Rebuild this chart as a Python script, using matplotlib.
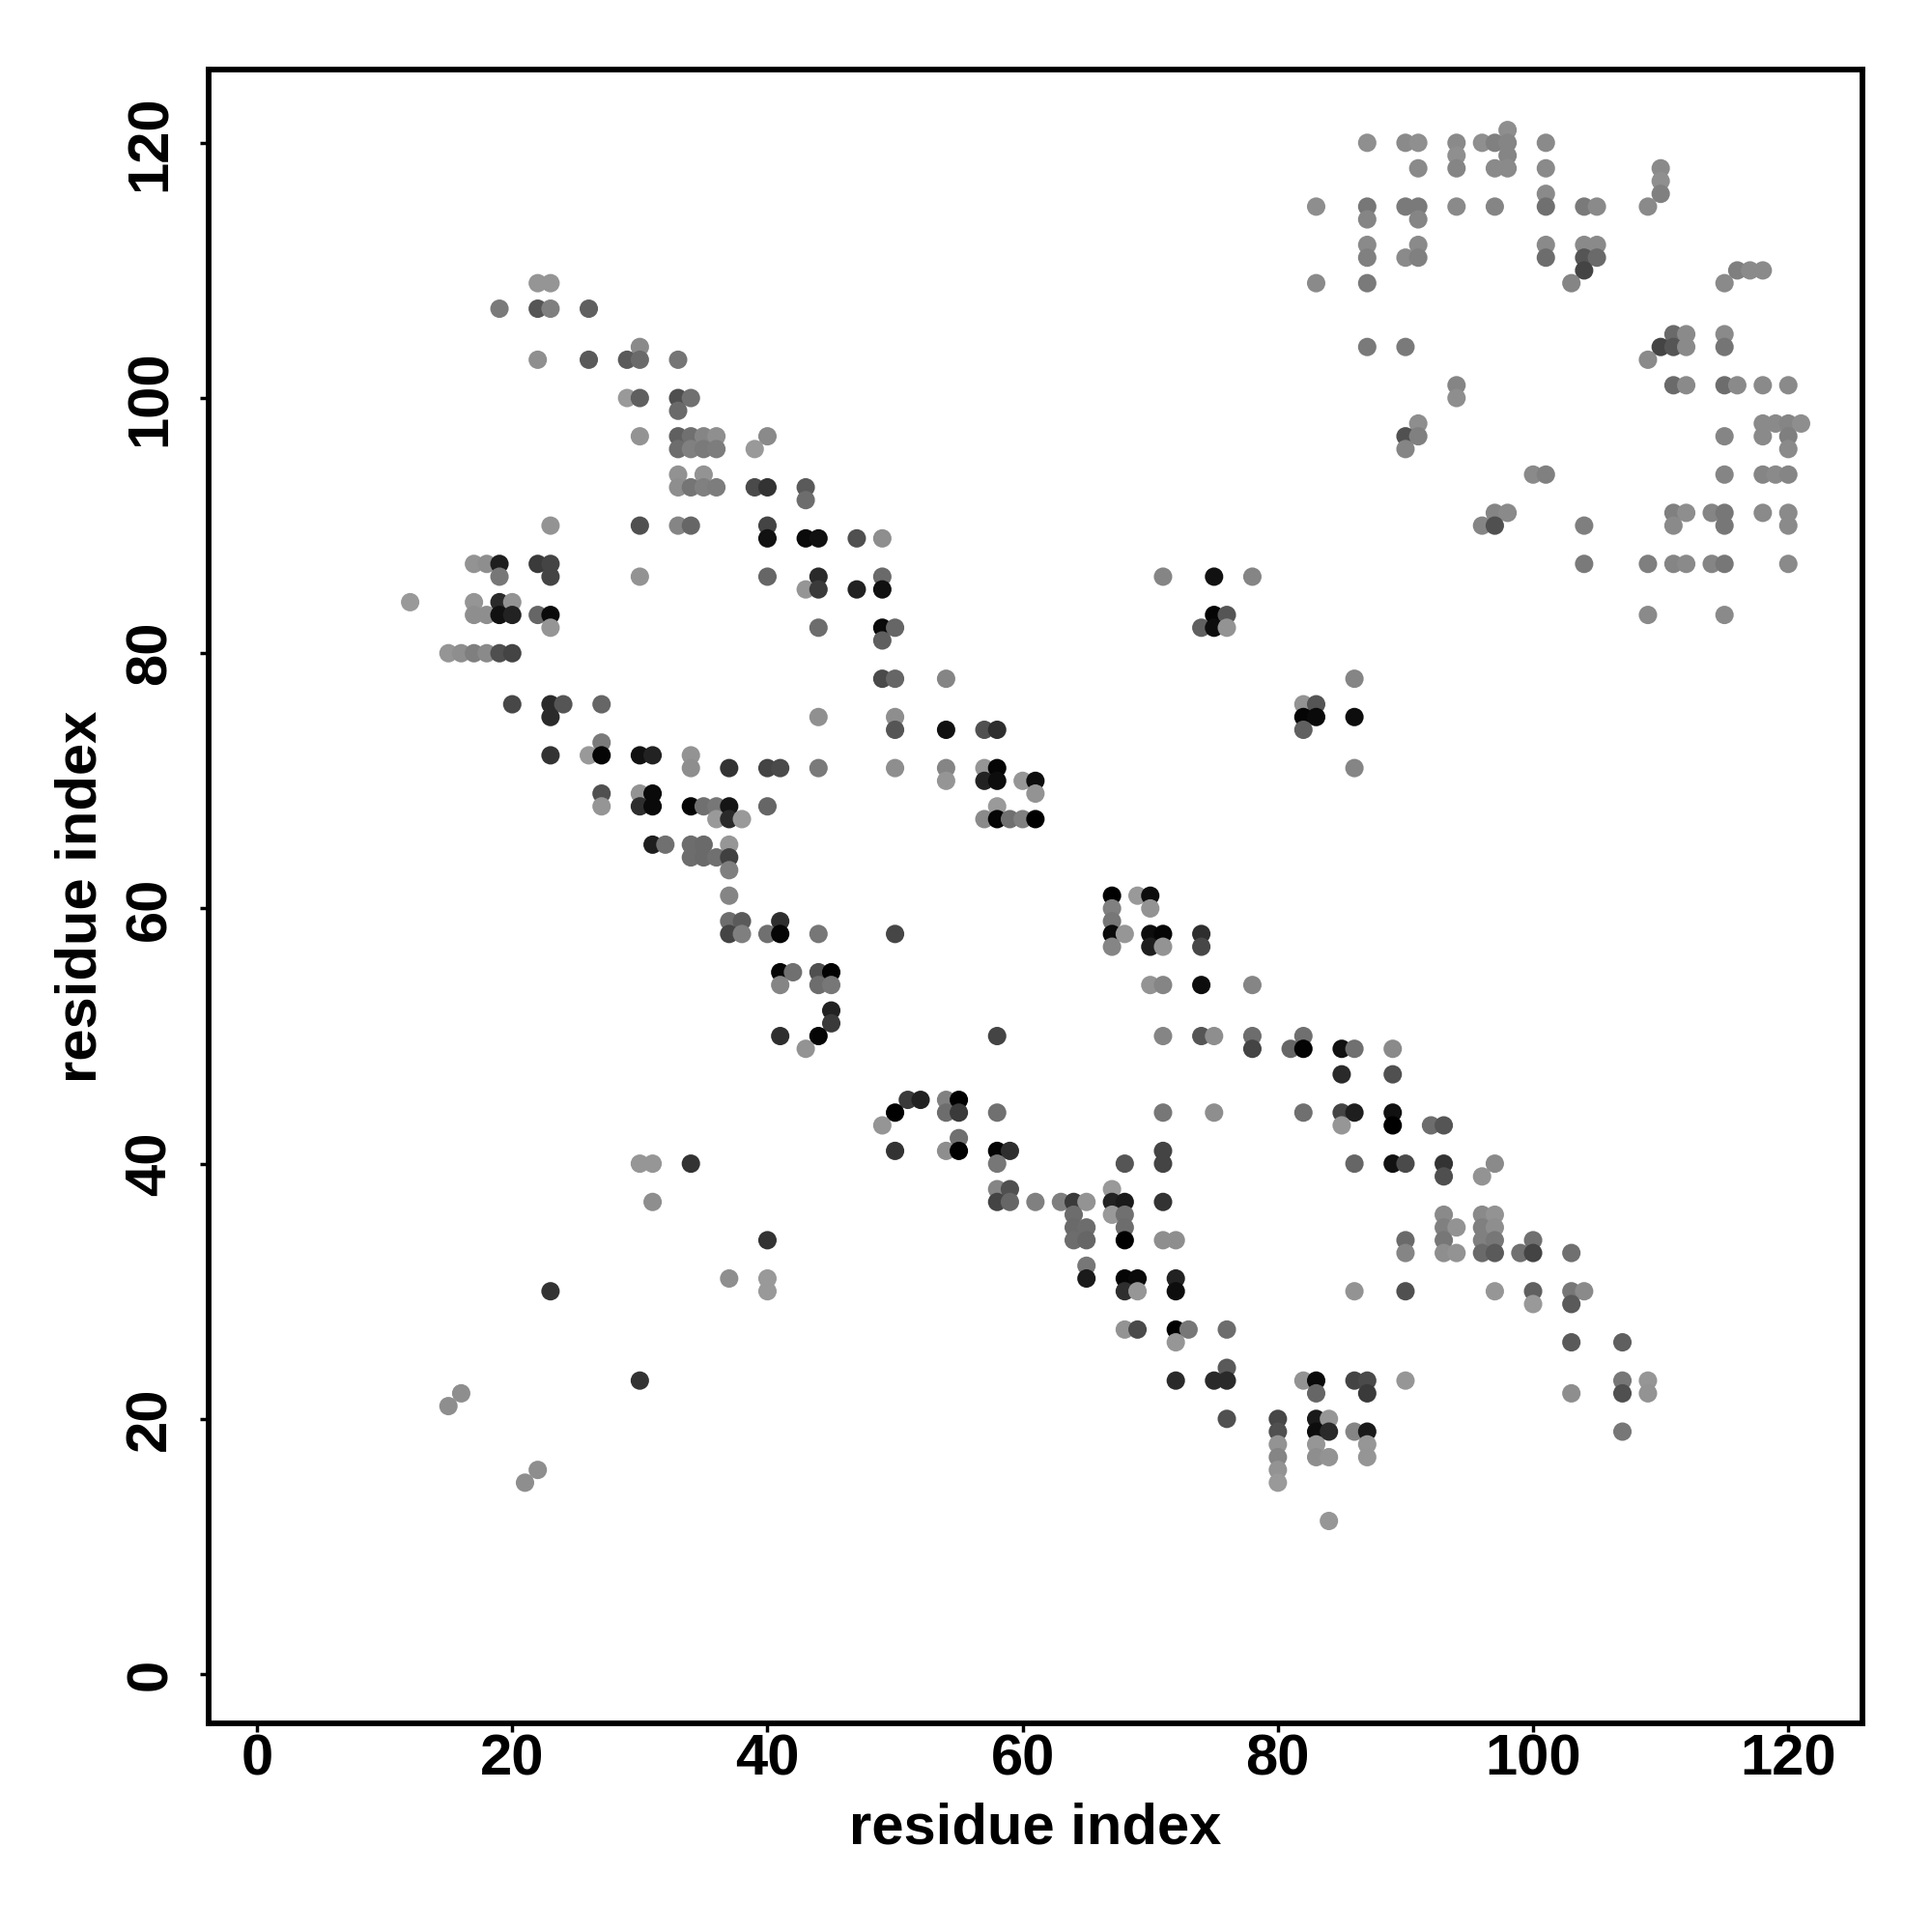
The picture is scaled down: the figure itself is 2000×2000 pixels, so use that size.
#!/usr/bin/env python3
import numpy as np
import matplotlib
matplotlib.use('Agg')
import matplotlib.pyplot as plt

# residue j of each row of contacts, top of the map first
row_y = [121, 120, 119, 118, 117, 116, 115, 114, 112, 111, 110, 109, 107, 105, 104, 103, 101, 100, 99, 98,
         97, 96, 94, 93, 92, 91, 90, 89, 87, 86, 85, 84, 83, 82, 81, 80, 78, 76, 75, 74, 73, 72, 71,
         70, 69, 68, 67, 65, 64, 63, 61, 60, 59, 58, 57, 55, 54, 52, 51, 50, 49, 47, 45, 44, 43, 42,
         41, 40, 39, 38, 37, 36, 35, 34, 33, 32, 31, 30, 29, 27, 26, 24, 23, 22, 21, 20, 19, 18, 17,
         16, 15, 12]

row_x = [
    [98],
    [87, 90, 91, 94, 96, 97, 98, 101],
    [94, 98],
    [91, 94, 97, 98, 101, 110],
    [110],
    [101, 110],
    [83, 87, 90, 91, 94, 97, 101, 104, 105, 109],
    [87, 91],
    [87, 91, 101, 104, 105],
    [87, 90, 91, 101, 104, 105],
    [104, 116, 117, 118],
    [22, 23, 83, 87, 103, 115],
    [19, 22, 23, 26],
    [111, 112, 115],
    [30, 87, 90, 110, 111, 112, 115],
    [22, 26, 29, 30, 33, 109],
    [94, 111, 112, 115, 116, 118, 120],
    [29, 30, 33, 34, 94],
    [33],
    [91, 118, 119, 120, 121],
    [30, 33, 34, 35, 36, 40, 90, 91, 115, 118, 120],
    [33, 34, 35, 36, 39, 90, 120],
    [33, 35, 100, 101, 115, 118, 119, 120],
    [33, 34, 35, 36, 39, 40, 43],
    [43],
    [97, 98, 111, 112, 114, 115, 118, 120],
    [23, 30, 33, 34, 40, 96, 97, 104, 111, 115, 120],
    [40, 43, 44, 47, 49],
    [17, 18, 19, 22, 23, 104, 109, 111, 112, 114, 115, 120],
    [19, 23, 30, 40, 44, 49, 71, 75, 78],
    [43, 44, 47, 49],
    [12, 17, 19, 20],
    [17, 18, 19, 20, 22, 23, 75, 76, 109, 115],
    [23, 44, 49, 50, 74, 75, 76],
    [49],
    [15, 16, 17, 18, 19, 20],
    [49, 50, 54, 86],
    [20, 23, 24, 27, 82, 83],
    [23, 44, 50, 82, 83, 86],
    [50, 54, 57, 58, 82],
    [27],
    [23, 26, 27, 30, 31, 34],
    [34, 37, 40, 41, 44, 50, 54, 57, 58, 86],
    [54, 57, 58, 60, 61],
    [27, 30, 31, 61],
    [27, 30, 31, 34, 35, 36, 37, 40, 58],
    [36, 37, 38, 57, 58, 59, 60, 61],
    [31, 32, 34, 35, 37],
    [34, 35, 36, 37],
    [37],
    [37, 67, 69, 70],
    [67, 70],
    [37, 38, 41, 67],
    [37, 38, 40, 41, 44, 50, 67, 68, 70, 71, 74],
    [67, 70, 71, 74],
    [41, 42, 44, 45],
    [41, 44, 45, 70, 71, 74, 78],
    [45],
    [45],
    [41, 44, 58, 71, 74, 75, 78, 82],
    [43, 78, 81, 82, 85, 86, 89],
    [85, 89],
    [51, 52, 54, 55],
    [50, 54, 55, 58, 71, 75, 82, 85, 86, 89],
    [49, 85, 89, 92, 93],
    [55],
    [50, 54, 55, 58, 59, 71],
    [30, 31, 34, 58, 68, 71, 86, 89, 90, 93, 97],
    [93, 96],
    [58, 59, 67],
    [31, 58, 59, 61, 63, 64, 65, 67, 68, 71],
    [64, 67, 68, 93, 96, 97],
    [64, 65, 68, 93, 94, 96, 97],
    [40, 64, 65, 68, 71, 72, 90, 93, 96, 97, 100],
    [90, 93, 94, 96, 97, 99, 100, 103],
    [65],
    [37, 40, 65, 68, 69, 72],
    [23, 40, 68, 69, 72, 86, 90, 97, 100, 103, 104],
    [100, 103],
    [68, 69, 72, 73, 76],
    [72, 103, 107],
    [76],
    [30, 72, 75, 76, 82, 83, 86, 87, 90, 107, 109],
    [16, 83, 87, 103, 107, 109],
    [15],
    [76, 80, 83, 84],
    [80, 83, 84, 86, 87, 107],
    [80, 83, 87],
    [80, 83, 84, 87],
    [22, 80],
    [21, 80],
    [84],
]

row_gray = [
    [142],
    [143, 138, 143, 138, 143, 128, 133, 138],
    [143, 133],
    [138, 133, 138, 138, 138, 138],
    [143],
    [138, 128],
    [142, 119, 122, 122, 138, 133, 112, 122, 138, 138],
    [133, 133],
    [138, 138, 138, 138, 138],
    [128, 138, 128, 109, 85, 106],
    [68, 127, 138, 138],
    [149, 149, 138, 122, 133, 138],
    [122, 85, 127, 96],
    [106, 138, 138],
    [138, 122, 122, 68, 85, 138, 117],
    [143, 90, 90, 106, 117, 138],
    [133, 106, 138, 109, 138, 138, 138],
    [153, 95, 79, 112, 142],
    [106],
    [142, 138, 138, 133, 142],
    [147, 96, 112, 133, 143, 138, 80, 128, 133, 138, 127],
    [109, 128, 122, 125, 153, 133, 138],
    [146, 147, 138, 128, 133, 133, 138, 133],
    [142, 117, 128, 125, 74, 51, 90],
    [109],
    [133, 138, 128, 142, 133, 119, 138, 138],
    [147, 80, 133, 102, 68, 133, 80, 127, 138, 119, 138],
    [17, 10, 17, 80, 142],
    [147, 142, 30, 58, 68, 122, 127, 133, 138, 133, 119, 138],
    [119, 68, 147, 102, 42, 106, 133, 17, 133],
    [149, 58, 34, 17],
    [153, 149, 42, 147],
    [142, 142, 17, 34, 102, 10, 5, 85, 138, 138],
    [149, 109, 10, 102, 96, 13, 147],
    [95],
    [149, 142, 127, 138, 79, 68],
    [74, 102, 133, 133],
    [71, 42, 85, 102, 147, 85],
    [42, 144, 142, 5, 10, 13],
    [85, 17, 80, 46, 96],
    [122],
    [51, 153, 5, 17, 34, 147],
    [142, 51, 68, 74, 122, 142, 133, 149, 5, 133],
    [149, 34, 13, 150, 13],
    [80, 147, 10, 147],
    [149, 46, 10, 5, 112, 119, 21, 102, 154],
    [153, 42, 153, 138, 5, 112, 128, 0],
    [30, 112, 109, 106, 150],
    [109, 106, 112, 64],
    [127],
    [133, 0, 153, 13],
    [128, 147],
    [109, 90, 46, 119],
    [68, 127, 112, 5, 119, 70, 10, 150, 13, 5, 46],
    [133, 30, 147, 71],
    [5, 112, 80, 3],
    [133, 109, 119, 147, 133, 13, 133],
    [34],
    [58],
    [46, 5, 68, 133, 85, 142, 109, 112],
    [147, 68, 102, 3, 17, 112, 138],
    [42, 80],
    [58, 34, 128, 0],
    [0, 109, 58, 112, 119, 142, 112, 68, 30, 17],
    [149, 150, 0, 109, 85],
    [112],
    [51, 142, 0, 5, 46, 68],
    [150, 150, 51, 119, 85, 68, 102, 17, 74, 51, 138],
    [79, 147],
    [133, 80, 153],
    [142, 68, 102, 128, 127, 58, 147, 34, 26, 51],
    [109, 153, 112, 138, 138, 147],
    [106, 109, 109, 128, 147, 128, 142],
    [51, 109, 102, 0, 142, 142, 106, 119, 128, 119, 112],
    [133, 142, 147, 106, 90, 112, 68, 112],
    [119],
    [142, 153, 26, 5, 10, 34],
    [51, 153, 46, 150, 13, 147, 80, 150, 96, 119, 138],
    [153, 90],
    [147, 74, 0, 119, 109],
    [150, 90, 95],
    [90],
    [51, 42, 42, 42, 147, 10, 68, 74, 150, 119, 150],
    [142, 102, 58, 142, 80, 147],
    [142],
    [80, 71, 26, 150],
    [80, 13, 42, 133, 26, 119],
    [147, 150, 150],
    [133, 142, 147, 149],
    [142, 147],
    [142, 153],
    [150],
]

x_ticks = [0, 20, 40, 60, 80, 100, 120]
y_ticks = [0, 20, 40, 60, 80, 100, 120]
x_label = 'residue index'
y_label = 'residue index'


def main():
    plt.rcParams['font.family'] = ['Liberation Sans', 'DejaVu Sans']
    plt.rcParams['font.weight'] = 'bold'

    for y, xs, gs in zip(row_y, row_x, row_gray):
        assert len(xs) == len(gs), y

    xs = np.concatenate(row_x)
    ys = np.concatenate([[y] * len(x) for y, x in zip(row_y, row_x)])
    grays = np.concatenate(row_gray)

    fig = plt.figure(figsize=(20, 20), dpi=100)
    ax = fig.add_axes([216 / 2000, 1 - 1784 / 2000, 1712 / 2000, 1712 / 2000])
    ax.scatter(xs, ys, c=grays, cmap='gray', vmin=0, vmax=255, s=188, linewidths=0, zorder=2)

    ax.set_xlim(-3.79, 125.81)
    ax.set_ylim(-3.86, 125.74)
    ax.set_xticks(x_ticks)
    ax.set_yticks(y_ticks)
    ax.tick_params(length=6.3, width=2.5, labelsize=43, pad=1)
    ax.tick_params(axis='y', pad=17)
    for label in ax.get_yticklabels():
        label.set_rotation(90)
        label.set_va('center')
    for spine in ax.spines.values():
        spine.set_linewidth(4.2)

    ax.set_xlabel(x_label, fontsize=43, fontweight='bold', labelpad=12)
    ax.set_ylabel(y_label, fontsize=43, fontweight='bold', labelpad=12)

    fig.savefig('out.png', dpi=100, facecolor='white')


if __name__ == '__main__':
    main()
